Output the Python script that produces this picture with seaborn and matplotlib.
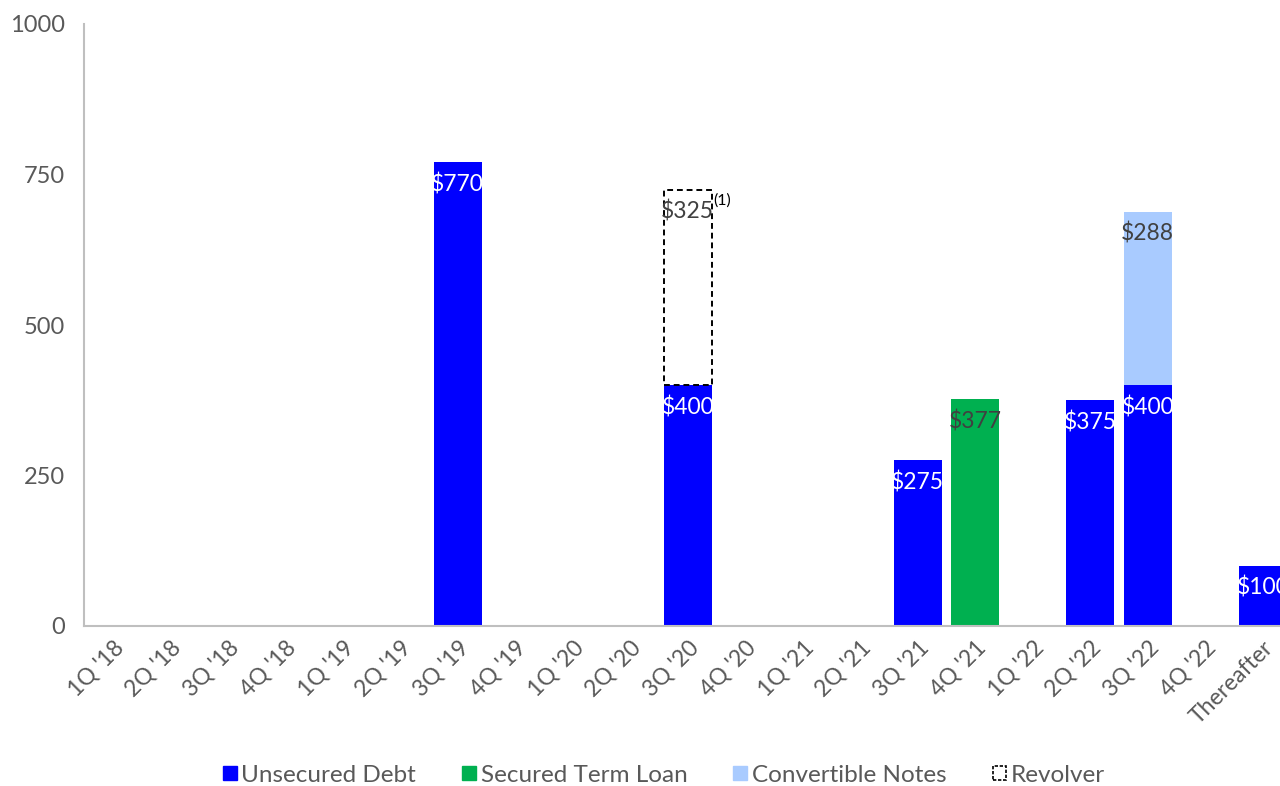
import matplotlib
matplotlib.use("Agg")
import matplotlib.pyplot as plt
from matplotlib.patches import Patch
import pandas as pd
import seaborn as sns

# Quarterly maturity schedule ($ millions)
quarters = ["1Q '18", "2Q '18", "3Q '18", "4Q '18", "1Q '19", "2Q '19", "3Q '19",
            "4Q '19", "1Q '20", "2Q '20", "3Q '20", "4Q '20", "1Q '21", "2Q '21",
            "3Q '21", "4Q '21", "1Q '22", "2Q '22", "3Q '22", "4Q '22", "Thereafter"]

unsecured_q = ["3Q '19", "3Q '20", "3Q '21", "2Q '22", "3Q '22", "Thereafter"]
unsecured_v = [770, 400, 275, 375, 400, 100]

secured_q = ["4Q '21"]
secured_v = [377]

convertible_q = ["3Q '22"]
convertible_v = [288]
convertible_base = [400]

revolver_q = ["3Q '20"]
revolver_v = [325]
revolver_base = [400]

y_ticks = [0, 250, 500, 750, 1000]

BLUE = "#0000FF"
GREEN = "#00B050"
LIGHT = "#A9CBFF"
GRAY = "#595959"
DARK = "#404040"

sns.set_theme(style="white")
plt.rcParams["font.family"] = ["Lato", "DejaVu Sans"]

fig = plt.figure(figsize=(12.8, 7.86), dpi=100)
ax = fig.add_axes([84 / 1280, 160 / 786, 1196 / 1280, 602 / 786])

W = 0.835

def draw(cats, vals, base=None, **kw):
    df = pd.DataFrame({"q": cats, "v": vals})
    extra = {}
    if base is not None:
        extra["bottom"] = base
    sns.barplot(data=df, x="q", y="v", order=quarters, width=W, ax=ax,
                errorbar=None, saturation=1, **extra, **kw)

draw(unsecured_q, unsecured_v, color=BLUE, linewidth=0)
draw(secured_q, secured_v, color=GREEN, linewidth=0)
draw(convertible_q, convertible_v, base=convertible_base, color=LIGHT, linewidth=0)
draw(revolver_q, revolver_v, base=revolver_base, color="white",
     edgecolor="black", linewidth=1.4, linestyle=(0, (3, 2)))

# value labels just inside the top of each bar
def label(cats, vals, base, color):
    for c, v, b in zip(cats, vals, base):
        ax.annotate(f"${v}", xy=(quarters.index(c), b + v), xytext=(0, -8),
                    textcoords="offset points", ha="center", va="top",
                    fontsize=16.5, color=color, clip_on=False)

label(unsecured_q, unsecured_v, [0] * len(unsecured_v), "white")
label(secured_q, secured_v, [0], DARK)
label(convertible_q, convertible_v, convertible_base, DARK)
label(revolver_q, revolver_v, revolver_base, DARK)

# footnote marker on the revolver
ri = quarters.index(revolver_q[0])
ax.annotate("(1)", xy=(ri + W / 2, revolver_base[0] + revolver_v[0]),
            xytext=(1, -3), textcoords="offset points", ha="left", va="top",
            fontsize=11.5, color="black")

ax.set_ylim(0, 1000)
ax.set_xlim(-0.5, 20.3)
ax.set_yticks(y_ticks)
ax.set_yticklabels([str(t) for t in y_ticks], fontsize=17, color=GRAY)
ax.set_xticks(range(len(quarters)))
ax.set_xticklabels(quarters, rotation=45, ha="right", rotation_mode="anchor",
                   fontsize=16.5, color=GRAY)
ax.tick_params(axis="y", length=0, pad=14)
ax.tick_params(axis="x", length=0, pad=8)
ax.set_xlabel("")
ax.set_ylabel("")

for s in ["top", "right"]:
    ax.spines[s].set_visible(False)
for s in ["left", "bottom"]:
    ax.spines[s].set_color("#BFBFBF")
    ax.spines[s].set_linewidth(1.5)

handles = [
    Patch(facecolor=BLUE, edgecolor=BLUE, label="Unsecured Debt"),
    Patch(facecolor=GREEN, edgecolor=GREEN, label="Secured Term Loan"),
    Patch(facecolor=LIGHT, edgecolor=LIGHT, label="Convertible Notes"),
    Patch(facecolor="white", edgecolor="black", linestyle=(0, (2, 1)), linewidth=1.2,
          label="Revolver"),
]
leg = fig.legend(handles=handles, loc="center", bbox_to_anchor=(664 / 1280, 1 - 775 / 786),
                 ncol=4, frameon=False, fontsize=17.5, handlelength=0.55, handleheight=0.55,
                 handletextpad=0.2, columnspacing=1.9)
for t in leg.get_texts():
    t.set_color(GRAY)

fig.savefig("out.png", dpi=100)
